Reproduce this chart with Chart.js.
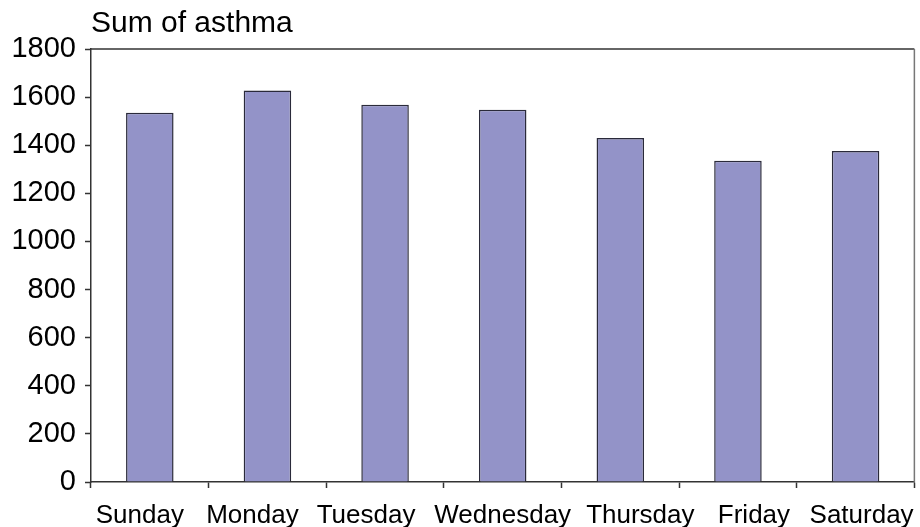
<!DOCTYPE html>
<html>
<head>
<meta charset="utf-8">
<script src="https://cdn.jsdelivr.net/npm/chart.js@4/dist/chart.umd.min.js"></script>
<style>
  html, body { margin: 0; padding: 0; background: #fff; }
  #wrap { width: 920px; height: 527px; }
</style>
</head>
<body>
<div id="wrap"><canvas id="chart"></canvas></div>
<script>
// Datos del gráfico
var days = ['Sunday', 'Monday', 'Tuesday', 'Wednesday', 'Thursday', 'Friday', 'Saturday'];
var asthmaSum = [1535, 1628, 1568, 1547, 1430, 1335, 1376];
var yTicks = [0, 200, 400, 600, 800, 1000, 1200, 1400, 1600, 1800];

var fontFamily = '"Liberation Sans", Arial, sans-serif';

// Desplazamiento horizontal de las etiquetas del eje X (como en el original)
var xLabelShift = [-10, -15, -19, 0, 20, 16, 6];

var shiftLabels = {
    id: 'shiftLabels',
    beforeDraw: function(chart) {
        var scale = chart.scales.x;
        var items = scale.getLabelItems(chart.chartArea);
        items.forEach(function(item, i) {
            if (item.options && item.options.translation && !item._shifted) {
                item.options.translation[0] += xLabelShift[i] || 0;
                item._shifted = true;
            }
        });
    }
};

// Marco superior y derecho del área de dibujo
var frameBox = {
    id: 'frameBox',
    afterDraw: function(chart) {
        var a = chart.chartArea;
        var ctx = chart.ctx;
        ctx.save();
        ctx.lineWidth = 1.5;
        ctx.strokeStyle = '#333';
        ctx.beginPath();
        ctx.moveTo(a.left, a.top);
        ctx.lineTo(a.right, a.top);
        ctx.stroke();
        ctx.strokeStyle = '#777';
        ctx.beginPath();
        ctx.moveTo(a.right, a.top);
        ctx.lineTo(a.right, a.bottom);
        ctx.stroke();
        ctx.restore();
    }
};

new Chart(document.getElementById('chart'), {
    type: 'bar',
    data: {
        labels: days,
        datasets: [{
            label: 'Sum of asthma',
            data: asthmaSum,
            backgroundColor: '#9393c8',
            borderColor: '#2a2a3a',
            borderWidth: 1.5,
            barPercentage: 0.404,
            categoryPercentage: 1
        }]
    },
    options: {
        responsive: true,
        maintainAspectRatio: false,
        animation: false,
        layout: { padding: { left: 0, right: 4, top: 0, bottom: 0 } },
        plugins: {
            legend: { display: false },
            tooltip: { enabled: false },
            title: {
                display: true,
                text: 'Sum of asthma',
                align: 'start',
                fullSize: false,
                color: '#000',
                font: { family: fontFamily, size: 30, weight: 'normal' },
                padding: { top: 6, bottom: 7 }
            }
        },
        scales: {
            x: {
                offset: true,
                afterFit: function(scale) { scale.height = 45; },
                grid: {
                    offset: true,
                    drawOnChartArea: false,
                    drawTicks: true,
                    tickLength: 6,
                    tickWidth: 1.5,
                    tickColor: '#333'
                },
                border: { display: true, color: '#333', width: 1.5 },
                ticks: {
                    color: '#000',
                    padding: 12,
                    maxRotation: 0,
                    autoSkip: false,
                    font: { family: fontFamily, size: 26 }
                }
            },
            y: {
                min: 0,
                max: 1800,
                afterFit: function(scale) { scale.width = 91; },
                afterBuildTicks: function(scale) {
                    scale.ticks = yTicks.map(function(v) { return { value: v }; });
                },
                grid: {
                    drawOnChartArea: false,
                    drawTicks: true,
                    tickLength: 6,
                    tickWidth: 1.5,
                    tickColor: '#333'
                },
                border: { display: true, color: '#333', width: 1.5 },
                ticks: {
                    color: '#000',
                    padding: 9,
                    font: { family: fontFamily, size: 29 },
                    callback: function(value) { return String(value); }
                }
            }
        }
    },
    plugins: [shiftLabels, frameBox]
});
</script>
</body>
</html>
